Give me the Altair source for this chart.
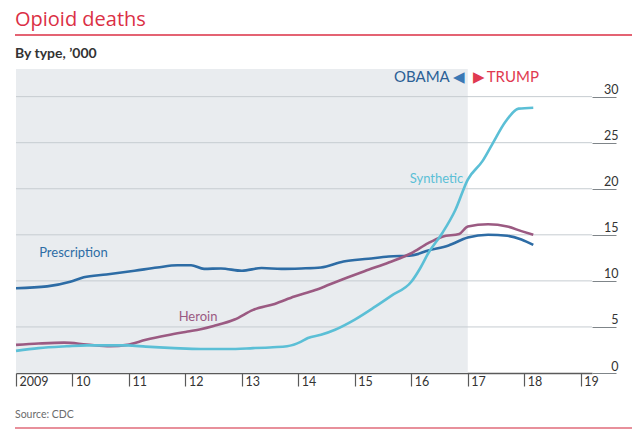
import altair as alt
import pandas as pd

# ---- data (thousands of deaths) ----
presc_year = [2009.0, 2009.55, 2009.96, 2010.2, 2010.6, 2011.1, 2011.5, 2011.86, 2012.1, 2012.33,
              2012.63, 2013.0, 2013.35, 2013.7, 2014.05, 2014.4, 2014.8, 2015.24, 2015.6, 2016.0,
              2016.3, 2016.66, 2017.0, 2017.36, 2017.7, 2017.95, 2018.16]
presc_val = [9.2, 9.4, 9.9, 10.4, 10.7, 11.1, 11.45, 11.7, 11.7, 11.3,
             11.35, 11.1, 11.4, 11.3, 11.35, 11.45, 12.1, 12.4, 12.65, 12.75,
             13.3, 13.85, 14.7, 15.0, 14.9, 14.5, 13.9]

heroin_year = [2009.0, 2009.4, 2009.85, 2010.25, 2010.67, 2010.97, 2011.3, 2011.68, 2012.04, 2012.27,
               2012.5, 2012.87, 2013.2, 2013.58, 2013.93, 2014.3, 2014.55, 2014.8, 2015.24, 2015.6,
               2016.0, 2016.3, 2016.55, 2016.85, 2017.0, 2017.36, 2017.7, 2017.95, 2018.16]
heroin_val = [3.05, 3.2, 3.3, 3.1, 2.9, 3.05, 3.6, 4.1, 4.5, 4.75,
              5.1, 5.8, 6.85, 7.5, 8.3, 9.0, 9.6, 10.2, 11.2, 12.0,
              13.0, 14.1, 14.8, 15.1, 15.9, 16.15, 15.9, 15.4, 15.0]

synth_year = [2009.0, 2009.4, 2009.9, 2010.25, 2010.67, 2010.97, 2011.3, 2011.8, 2012.27, 2012.75,
              2013.2, 2013.55, 2013.8, 2014.05, 2014.17, 2014.4, 2014.65, 2015.0, 2015.36, 2015.65,
              2016.0, 2016.16, 2016.3, 2016.55, 2016.78, 2017.0, 2017.26, 2017.43, 2017.67, 2017.9, 2018.16]
synth_val = [2.4, 2.7, 2.9, 3.0, 3.0, 3.0, 2.86, 2.7, 2.6, 2.6,
             2.7, 2.8, 2.9, 3.4, 3.8, 4.15, 4.7, 5.8, 7.2, 8.4,
             9.9, 11.4, 13.0, 15.2, 17.7, 21.0, 23.0, 24.8, 27.3, 28.7, 28.8]

series_names = ["Prescription", "Heroin", "Synthetic"]
series_colors = ["#2d6ca5", "#9b5a82", "#5bbfd6"]
label_year = [2009.41, 2011.88, 2016.92]
label_value = [12.6, 5.65, 20.65]
label_align = ["left", "left", "right"]

y_ticks = [0, 5, 10, 15, 20, 25, 30]
x_ticks = list(range(2009, 2020))

rows = []
for name, ys_, vs_ in [("Prescription", presc_year, presc_val),
                       ("Heroin", heroin_year, heroin_val),
                       ("Synthetic", synth_year, synth_val)]:
    for yy, vv in zip(ys_, vs_):
        rows.append({"series": name, "year": yy, "value": vv})
df = pd.DataFrame(rows)

W, H = 576, 304
FONT = "Lato"

xs = alt.Scale(domain=[2009, 2019.2], nice=False, zero=False)
ysc = alt.Scale(domain=[0, 33], nice=False, zero=False)
color_scale = alt.Scale(domain=series_names, range=series_colors)

x_axis = alt.Axis(values=x_ticks, title=None, grid=False,
                  domainColor="#5a5a5a", domainWidth=1.5,
                  tickColor="#5a5a5a", tickWidth=1.2, tickSize=13,
                  labelAlign="left", labelBaseline="top", labelPadding=-11, labelOffset=3,
                  labelFont=FONT, labelFontSize=12.5, labelColor="#333333",
                  labelOverlap=False, labelFlush=False, labelBound=False,
                  labelExpr="datum.value == 2009 ? '2009' : substring(toString(datum.value), 2, 4)")
y_axis = alt.Axis(values=y_ticks, title=None, grid=False, orient="right", domain=False,
                  tickColor="#7f8589", tickWidth=1, tickSize=24,
                  labelAlign="right", labelBaseline="alphabetic", labelPadding=2, labelOffset=-3,
                  labelFont=FONT, labelFontSize=12.5, labelColor="#333333",
                  labelOverlap=False, labelFlush=False, labelBound=False)

X = lambda f: alt.X(f, scale=xs, axis=x_axis)
Y = lambda f: alt.Y(f, scale=ysc, axis=y_axis)

shade = alt.Chart(pd.DataFrame({"start": [2009], "end": [2017]})).mark_rect(color="#e9ecef").encode(
    x=X("start:Q"), x2="end:Q", y=alt.value(0), y2=alt.value(H))

grid = alt.Chart(pd.DataFrame({"v": y_ticks[1:]})).mark_rule(color="#c6ccd1", strokeWidth=1).encode(
    y=Y("v:Q"), x=alt.value(0), x2=alt.value(W))

lines = alt.Chart(df).mark_line(strokeWidth=2.6, interpolate="monotone").encode(
    x=X("year:Q"), y=Y("value:Q"),
    color=alt.Color("series:N", scale=color_scale, legend=None),
    detail="series:N")

lab_df = pd.DataFrame({"series": series_names, "year": label_year, "value": label_value,
                       "align": label_align})
labels_left = alt.Chart(lab_df[lab_df["align"] == "left"]).mark_text(
    align="left", baseline="alphabetic", font=FONT, fontSize=13).encode(
    x=X("year:Q"), y=Y("value:Q"), text="series:N",
    color=alt.Color("series:N", scale=color_scale, legend=None))
labels_right = alt.Chart(lab_df[lab_df["align"] == "right"]).mark_text(
    align="right", baseline="alphabetic", font=FONT, fontSize=13).encode(
    x=X("year:Q"), y=Y("value:Q"), text="series:N",
    color=alt.Color("series:N", scale=color_scale, legend=None))

era = pd.DataFrame({"year": [2017]})
obama = alt.Chart(era).mark_text(text="OBAMA", align="right", baseline="alphabetic", font=FONT,
                                 fontSize=15, color="#2b5f96", dx=-18).encode(
    x=X("year:Q"), y=alt.value(13))
tri_l = alt.Chart(era).mark_text(text="◀", align="center", baseline="alphabetic", font="DejaVu Sans",
                                 fontSize=15, color="#3b78b5", dx=-9).encode(
    x=X("year:Q"), y=alt.value(13))
tri_r = alt.Chart(era).mark_text(text="▶", align="center", baseline="alphabetic", font="DejaVu Sans",
                                 fontSize=15, color="#e03a50", dx=11).encode(
    x=X("year:Q"), y=alt.value(13))
trump = alt.Chart(era).mark_text(text="TRUMP", align="left", baseline="alphabetic", font=FONT,
                                 fontSize=15, color="#e03a50", dx=19).encode(
    x=X("year:Q"), y=alt.value(13))

one = pd.DataFrame({"t": [0]})
title = alt.Chart(one).mark_text(text="Opioid deaths", align="left", baseline="alphabetic",
                                 font="Open Sans", fontSize=20, color="#db2f45").encode(
    x=alt.value(-1), y=alt.value(-43))
title_rule = alt.Chart(one).mark_rule(color="#db2f45", strokeWidth=1.6).encode(
    x=alt.value(-1), x2=alt.value(616), y=alt.value(-34))
subtitle = alt.Chart(one).mark_text(text="By type, ’000", align="left", baseline="alphabetic", font=FONT,
                                    fontSize=14, fontWeight="bold", color="#333333").encode(
    x=alt.value(-1), y=alt.value(-11))
source = alt.Chart(one).mark_text(text="Source: CDC", align="left", baseline="alphabetic", font=FONT,
                                  fontSize=10.5, color="#6b6b6b").encode(
    x=alt.value(-1), y=alt.value(349))
bottom_rule = alt.Chart(one).mark_rule(color="#e8909b", strokeWidth=2).encode(
    x=alt.value(-1), x2=alt.value(616), y=alt.value(359))

chart = alt.layer(shade, grid, lines, labels_left, labels_right, obama, tri_l, tri_r, trump,
                  title, title_rule, subtitle, source, bottom_rule).properties(
    width=W, height=H,
    autosize=alt.AutoSizeParams(type="none"),
    padding={"left": 8, "top": 61, "right": 40, "bottom": 59},
    background="white",
).configure_view(stroke=None)

chart.save("out.html", embed_options={"renderer": "svg", "actions": False})
